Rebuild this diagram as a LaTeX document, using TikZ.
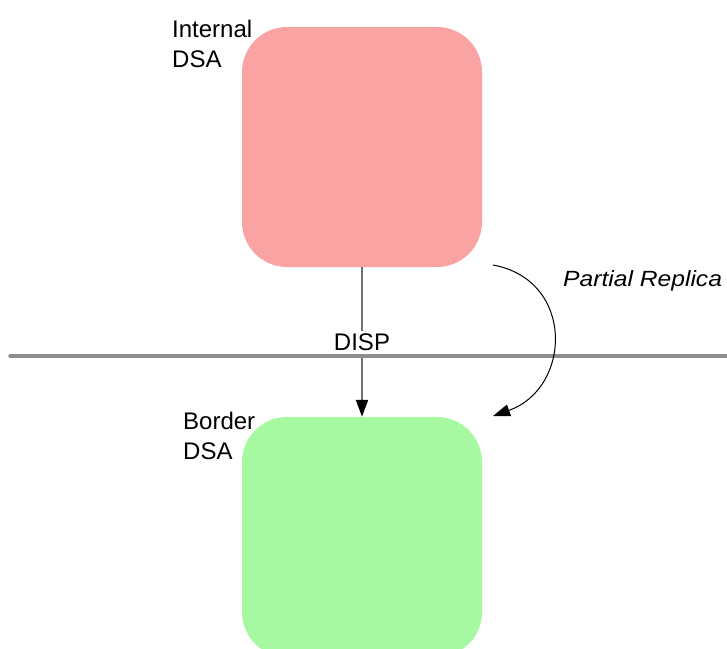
\documentclass[tikz,border=0pt]{standalone}
\usepackage{fontspec}
\setmainfont{Liberation Sans}
\usetikzlibrary{arrows.meta}
\definecolor{dsared}{HTML}{F9A3A3}
\definecolor{dsagreen}{HTML}{A6F9A0}
\definecolor{wallgray}{HTML}{8E8E8E}
\definecolor{linkgray}{HTML}{707070}
\begin{document}
\begin{tikzpicture}[x=1pt,y=-1pt,
  dsabox/.style={rectangle, rounded corners=45pt, minimum width=240pt, minimum height=240pt, inner sep=0pt, draw=none},
  lbl/.style={inner sep=0pt, align=left, font=\fontsize{24}{30}\selectfont}]
\useasboundingbox (0,0) rectangle (727,648);
\clip (0,0) rectangle (727,648);
\node[dsabox, fill=dsared] (internal) at (362,147) {};
\node[dsabox, fill=dsagreen] (border) at (362,537) {};
\node[lbl, anchor=north west] (intlbl) at (172,20) {Internal\\DSA};
\node[lbl, anchor=north west] (borlbl) at (183,412) {Border\\DSA};
\draw[linkgray, line width=2pt, -{Triangle[length=17pt,width=12pt,color=black]}] (internal.south) -- node[fill=white, inner sep=3pt, font=\fontsize{24}{30}\selectfont, text=black] (disp) {DISP} (border.north);
\coordinate (wallL) at (10,356);
\coordinate (wallR) at (727,356);
\draw[wallgray, line width=3.5pt, line cap=round] (wallL) -- (wallR);
\coordinate (repS) at (493,265);
\coordinate (repE) at (493,416);
\draw[black, line width=1pt, -{Triangle[length=17pt,width=12pt]}] (repS) .. controls (575,280) and (572,388) .. (repE);
\node[inner sep=0pt, anchor=base west, font=\fontsize{22}{26}\selectfont] (replbl) at (563,286) {\scalebox{1.12}[1]{\itshape Partial Replica}};
\end{tikzpicture}
\end{document}
